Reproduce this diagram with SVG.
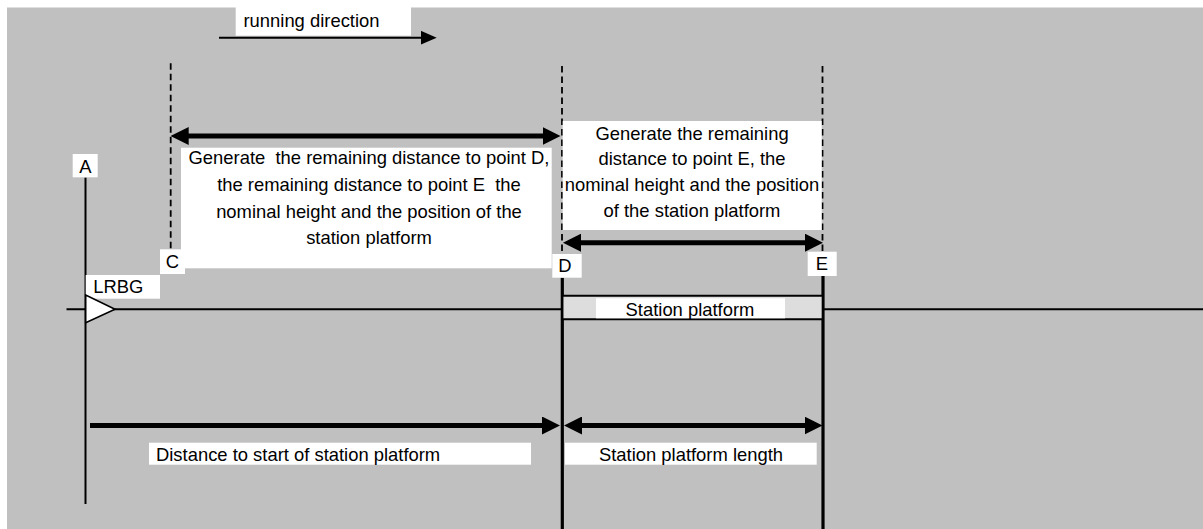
<svg xmlns="http://www.w3.org/2000/svg" width="1203" height="529" viewBox="0 0 1203 529">
<style>
  text { font-family: "Liberation Sans", Arial, sans-serif; font-size: 18.4px; fill: #000; white-space: pre; }
  .box { fill: #fff; stroke: none; }
  .mid { text-anchor: middle; }
  .dash { stroke: #000; stroke-width: 1.8; stroke-dasharray: 6.5 4; fill: none; }
  .thin { stroke: #000; stroke-width: 2; fill: none; }
  .thick { stroke: #000; stroke-width: 3.2; fill: none; }
  .dim { stroke: #000; stroke-width: 5; fill: none; }
</style>
<defs>
  <marker id="big" markerUnits="userSpaceOnUse" viewBox="0 0 18 18" markerWidth="18" markerHeight="18" refX="8" refY="9" orient="auto-start-reverse">
    <path d="M0,0 L18,9 L0,18 Z" fill="#000"/>
  </marker>
  <marker id="small" markerUnits="userSpaceOnUse" viewBox="0 0 16 14" markerWidth="16" markerHeight="14" refX="6" refY="7" orient="auto">
    <path d="M0,0 L16,7 L0,14 Z" fill="#000"/>
  </marker>
</defs>
<rect x="0" y="0" width="1203" height="529" fill="#fff"/>
<rect x="7" y="7.5" width="1196" height="521.5" fill="#c0c0c0"/>

<g id="connectors">
  <!-- track -->
  <line class="thin" x1="66.5" y1="309.3" x2="562" y2="309.3"/>
  <line class="thin" x1="823" y1="309.3" x2="1203" y2="309.3"/>
  <!-- A line -->
  <line class="thin" x1="85.5" y1="177.5" x2="85.5" y2="504"/>
  <!-- dashed lines -->
  <line class="dash" x1="170.7" y1="63.3" x2="170.7" y2="250"/>
  <line class="dash" x1="562" y1="66" x2="562" y2="254"/>
  <line class="dash" x1="822.5" y1="66" x2="822.5" y2="252"/>
  <!-- solid D/E lines -->
  <line class="thick" x1="562.3" y1="277.7" x2="562.3" y2="529"/>
  <line class="thick" x1="823" y1="276" x2="823" y2="529"/>
  <!-- running direction arrow -->
  <line x1="219" y1="37.7" x2="426.7" y2="37.7" stroke="#000" stroke-width="2" marker-end="url(#small)"/>
  <!-- C to D -->
  <line class="dim" x1="180.7" y1="136" x2="550.5" y2="136" marker-start="url(#big)" marker-end="url(#big)"/>
  <!-- D to E upper -->
  <line class="dim" x1="573" y1="242.7" x2="813" y2="242.7" marker-start="url(#big)" marker-end="url(#big)"/>
  <!-- A to D -->
  <line class="dim" x1="90" y1="425.5" x2="550" y2="425.5" marker-end="url(#big)"/>
  <!-- D to E lower -->
  <line class="dim" x1="574" y1="425.5" x2="812.5" y2="425.5" marker-start="url(#big)" marker-end="url(#big)"/>
</g>

<g id="running-direction">
  <rect class="box" x="235.7" y="7" width="175.3" height="28.7"/>
  <text x="243.5" y="26.5">running direction</text>
</g>

<g id="point-A">
  <rect class="box" x="72.7" y="154" width="25" height="23.3"/>
  <text class="mid" x="85.5" y="172.5">A</text>
</g>

<g id="LRBG">
  <rect class="box" x="85.7" y="275" width="74.3" height="23.7"/>
  <text x="93.3" y="293.3">LRBG</text>
  <polygon points="85.7,295 85.7,322.7 115,309.3" fill="#fff" stroke="#000" stroke-width="1.6" stroke-linejoin="miter"/>
</g>

<g id="point-C">
  <rect class="box" x="160" y="249.3" width="25" height="24.7"/>
  <text class="mid" x="172.5" y="268.3">C</text>
</g>

<g id="point-D">
  <rect class="box" x="552.3" y="254" width="29.4" height="23.7"/>
  <text x="558.3" y="271.7">D</text>
</g>

<g id="point-E">
  <rect class="box" x="807.7" y="251.7" width="29" height="24.3"/>
  <text x="815.7" y="270">E</text>
</g>

<g id="info-C-D">
  <rect class="box" x="181" y="147.7" width="370.7" height="120.6"/>
  <text class="mid" x="369" y="163.8">Generate  the remaining distance to point D,</text>
  <text class="mid" x="369" y="190.8">the remaining distance to point E  the</text>
  <text class="mid" x="369" y="217.5">nominal height and the position of the</text>
  <text class="mid" x="369" y="243.5">station platform</text>
</g>

<g id="info-D-E">
  <rect class="box" x="562.7" y="121" width="259" height="109"/>
  <text class="mid" x="692" y="139.5">Generate the remaining</text>
  <text class="mid" x="692" y="165.2">distance to point E, the</text>
  <text class="mid" x="692" y="190.9">nominal height and the position</text>
  <text class="mid" x="692" y="216.7">of the station platform</text>
</g>

<g id="station-platform">
  <rect x="563.5" y="295.7" width="258" height="23.6" fill="#dddddd"/>
  <line class="thin" x1="562" y1="295.7" x2="823" y2="295.7"/>
  <line class="thin" x1="562" y1="319.3" x2="823" y2="319.3"/>
  <rect class="box" x="596" y="298.3" width="189" height="20"/>
  <text class="mid" x="690" y="315.7">Station platform</text>
</g>

<g id="distance-label">
  <rect class="box" x="149" y="442.7" width="382" height="22"/>
  <text x="156" y="461">Distance to start of station platform</text>
</g>

<g id="length-label">
  <rect class="box" x="565" y="442.7" width="251.7" height="22"/>
  <text class="mid" x="691" y="461">Station platform length</text>
</g>
</svg>
